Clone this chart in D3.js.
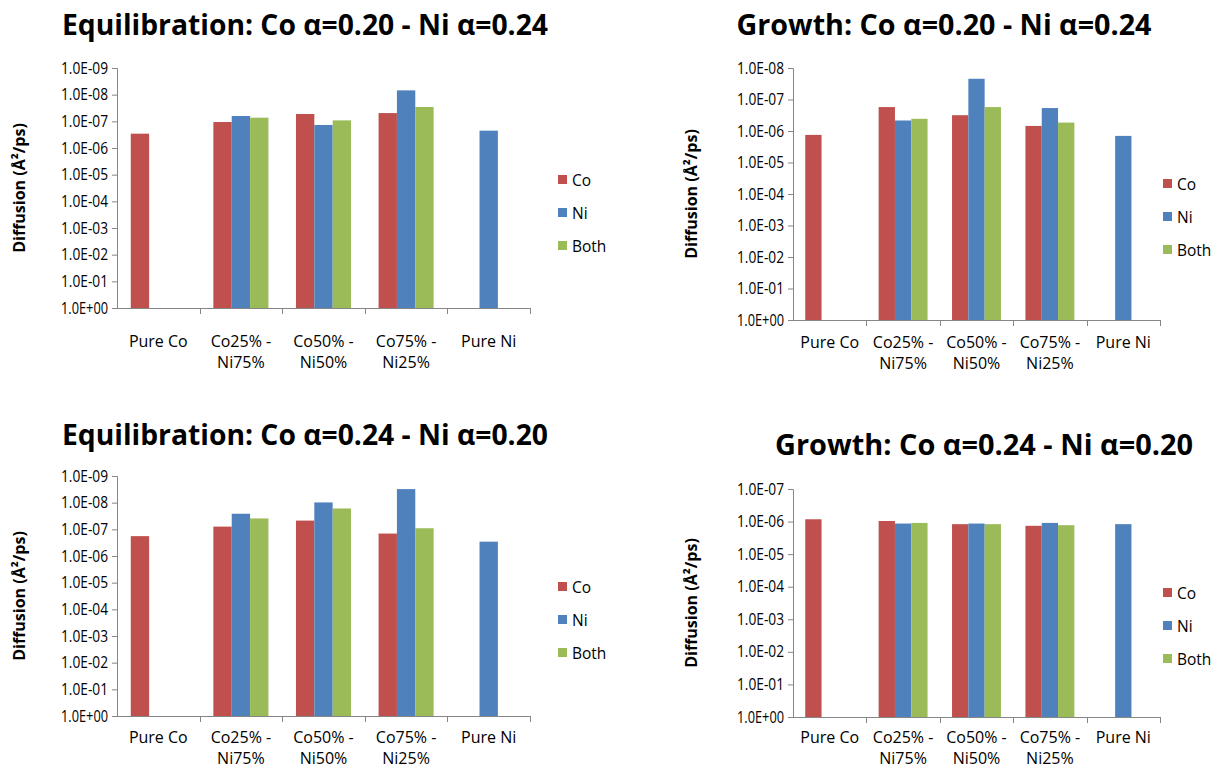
<!DOCTYPE html>
<html>
<head>
<meta charset="utf-8">
<script src="https://cdn.jsdelivr.net/npm/d3@7"></script>
<style>
  body { margin: 0; background: #fff; }
  svg { display: block; font-family: "Open Sans", "Noto Sans", sans-serif; }
</style>
</head>
<body>
<div id="chart"></div>
<script>
// categories and series shared by all four charts
const categories = [['Pure Co'], ['Co25% -', 'Ni75%'], ['Co50% -', 'Ni50%'], ['Co75% -', 'Ni25%'], ['Pure Ni']];
const seriesNames = ['Co', 'Ni', 'Both'];
const seriesColors = ['#C0504D', '#4F81BD', '#9BBB59'];

// values (null = no bar)
const eqA_Co = [2.9e-7, 1.06e-7, 5.3e-8, 4.9e-8, null];
const eqA_Ni = [null, 6.3e-8, 1.37e-7, 6.9e-9, 2.24e-7];
const eqA_Both = [null, 7.3e-8, 9.2e-8, 2.9e-8, null];

const grA_Co = [1.33e-6, 1.74e-7, 3.15e-7, 6.9e-7, null];
const grA_Ni = [null, 4.64e-7, 2.2e-8, 1.87e-7, 1.43e-6];
const grA_Both = [null, 4.1e-7, 1.74e-7, 5.4e-7, null];

const eqB_Co = [1.8e-7, 7.9e-8, 4.7e-8, 1.44e-7, null];
const eqB_Ni = [null, 2.6e-8, 9.8e-9, 3.1e-9, 2.9e-7];
const eqB_Both = [null, 3.9e-8, 1.65e-8, 9.1e-8, null];

const grB_Co = [8.5e-7, 9.6e-7, 1.2e-6, 1.35e-6, null];
const grB_Ni = [null, 1.15e-6, 1.15e-6, 1.1e-6, 1.2e-6];
const grB_Both = [null, 1.1e-6, 1.2e-6, 1.29e-6, null];

// y ticks (decades, reversed log axis)
const ticks9 = [1, 1e-1, 1e-2, 1e-3, 1e-4, 1e-5, 1e-6, 1e-7, 1e-8, 1e-9];
const ticks8 = ticks9.slice(0, 9);
const ticks7 = ticks9.slice(0, 8);

const panels = [
  { title: 'Equilibration: Co α=0.20 - Ni α=0.24', titleX: 305, titleY: 35, titleW: 486,
    x0: 117, x1: 530, top: 68, bottom: 308, ticks: ticks9, legendX: 558, legendY: 180,
    labelDy: 39, yTitleDx: 92, series: [eqA_Co, eqA_Ni, eqA_Both] },
  { title: 'Growth: Co α=0.20 - Ni α=0.24', titleX: 944, titleY: 35, titleW: 415,
    x0: 793, x1: 1160, top: 68, bottom: 320, ticks: ticks8, legendX: 1163, legendY: 184,
    labelDy: 28, yTitleDx: 96, series: [grA_Co, grA_Ni, grA_Both] },
  { title: 'Equilibration: Co α=0.24 - Ni α=0.20', titleX: 305, titleY: 445, titleW: 486,
    x0: 117, x1: 530, top: 476, bottom: 716, ticks: ticks9, legendX: 558, legendY: 587,
    labelDy: 27, yTitleDx: 92, series: [eqB_Co, eqB_Ni, eqB_Both] },
  { title: 'Growth: Co α=0.24 - Ni α=0.20', titleX: 984, titleY: 455, titleW: 418,
    x0: 793, x1: 1160, top: 489, bottom: 717, ticks: ticks7, legendX: 1163, legendY: 593,
    labelDy: 26, yTitleDx: 96, series: [grB_Co, grB_Ni, grB_Both] }
];

const axisColor = '#868686';
const textColor = '#000';

const svg = d3.select('#chart').append('svg')
  .attr('width', 1215)
  .attr('height', 769);

const fmtExp = (v) => {
  const e = Math.round(Math.log10(v));
  const s = e < 0 ? '-' : '+';
  return `1.0E${s}${String(Math.abs(e)).padStart(2, '0')}`;
};

panels.forEach((p) => {
  const g = svg.append('g');

  // Title
  g.append('text')
    .attr('x', p.titleX)
    .attr('y', p.titleY)
    .attr('text-anchor', 'middle')
    .attr('font-size', 28)
    .attr('font-weight', 'bold')
    .attr('textLength', p.titleW)
    .attr('lengthAdjust', 'spacingAndGlyphs')
    .attr('fill', textColor)
    .text(p.title);

  const x = d3.scaleBand()
    .domain(d3.range(categories.length))
    .range([p.x0, p.x1]);

  // bar width: gap width 150% -> 3 bars + 1.5 bar gap per category
  const bw = x.bandwidth() / 4.5;

  const y = d3.scaleLog()
    .domain([1, p.ticks[p.ticks.length - 1]])
    .range([p.bottom, p.top]);

  // Bars
  p.series.forEach((vals, si) => {
    g.append('g')
      .selectAll('rect')
      .data(vals.map((v, i) => ({ v, i })).filter((d) => d.v != null))
      .join('rect')
      .attr('x', (d) => x(d.i) + bw * 0.75 + si * bw)
      .attr('y', (d) => y(d.v))
      .attr('width', bw)
      .attr('height', (d) => y(1) - y(d.v))
      .attr('fill', seriesColors[si]);
  });

  // Y axis
  const yAxis = g.append('g')
    .attr('transform', `translate(${p.x0},0)`)
    .call(d3.axisLeft(y).tickValues(p.ticks).tickFormat(fmtExp).tickSize(5).tickPadding(4));
  yAxis.select('.domain').attr('stroke', axisColor);
  yAxis.selectAll('.tick line').attr('stroke', axisColor);
  yAxis.selectAll('.tick text')
    .attr('font-size', 16)
    .attr('font-family', '"Open Sans", sans-serif')
    .attr('textLength', 47)
    .attr('lengthAdjust', 'spacingAndGlyphs')
    .attr('fill', textColor);

  // X axis line with ticks between categories
  g.append('line')
    .attr('x1', p.x0).attr('x2', p.x1)
    .attr('y1', p.bottom + 0.5).attr('y2', p.bottom + 0.5)
    .attr('stroke', axisColor);
  g.append('g')
    .selectAll('line')
    .data(d3.range(1, categories.length + 1))
    .join('line')
    .attr('x1', (i) => Math.round(p.x0 + i * x.step()) + 0.5)
    .attr('x2', (i) => Math.round(p.x0 + i * x.step()) + 0.5)
    .attr('y1', p.bottom)
    .attr('y2', p.bottom + 6)
    .attr('stroke', axisColor);

  // Category labels
  g.append('g')
    .selectAll('text')
    .data(categories)
    .join('text')
    .attr('x', (d, i) => x(i) + x.bandwidth() / 2)
    .attr('y', p.bottom + p.labelDy)
    .attr('text-anchor', 'middle')
    .attr('font-size', 16)
    .attr('fill', textColor)
    .selectAll('tspan')
    .data((d) => d)
    .join('tspan')
    .attr('x', function () { return d3.select(this.parentNode).attr('x'); })
    .attr('dy', (d, i) => (i === 0 ? 0 : 21))
    .text((d) => d);

  // Y axis title
  g.append('text')
    .attr('transform', `translate(${p.x0 - p.yTitleDx},${(p.top + p.bottom) / 2}) rotate(-90)`)
    .attr('text-anchor', 'middle')
    .attr('font-size', 16)
    .attr('font-weight', 'bold')
    .attr('fill', textColor)
    .text('Diffusion (Å²/ps)');

  // Legend
  const legend = g.append('g')
    .selectAll('g')
    .data(seriesNames)
    .join('g')
    .attr('transform', (d, i) => `translate(${p.legendX},${p.legendY + i * 33})`);
  legend.append('rect')
    .attr('x', 0).attr('y', -5)
    .attr('width', 9).attr('height', 9)
    .attr('fill', (d, i) => seriesColors[i]);
  legend.append('text')
    .attr('x', 14)
    .attr('y', 5.5)
    .attr('font-size', 15.5)
    .attr('fill', textColor)
    .text((d) => d);
});
</script>
</body>
</html>
